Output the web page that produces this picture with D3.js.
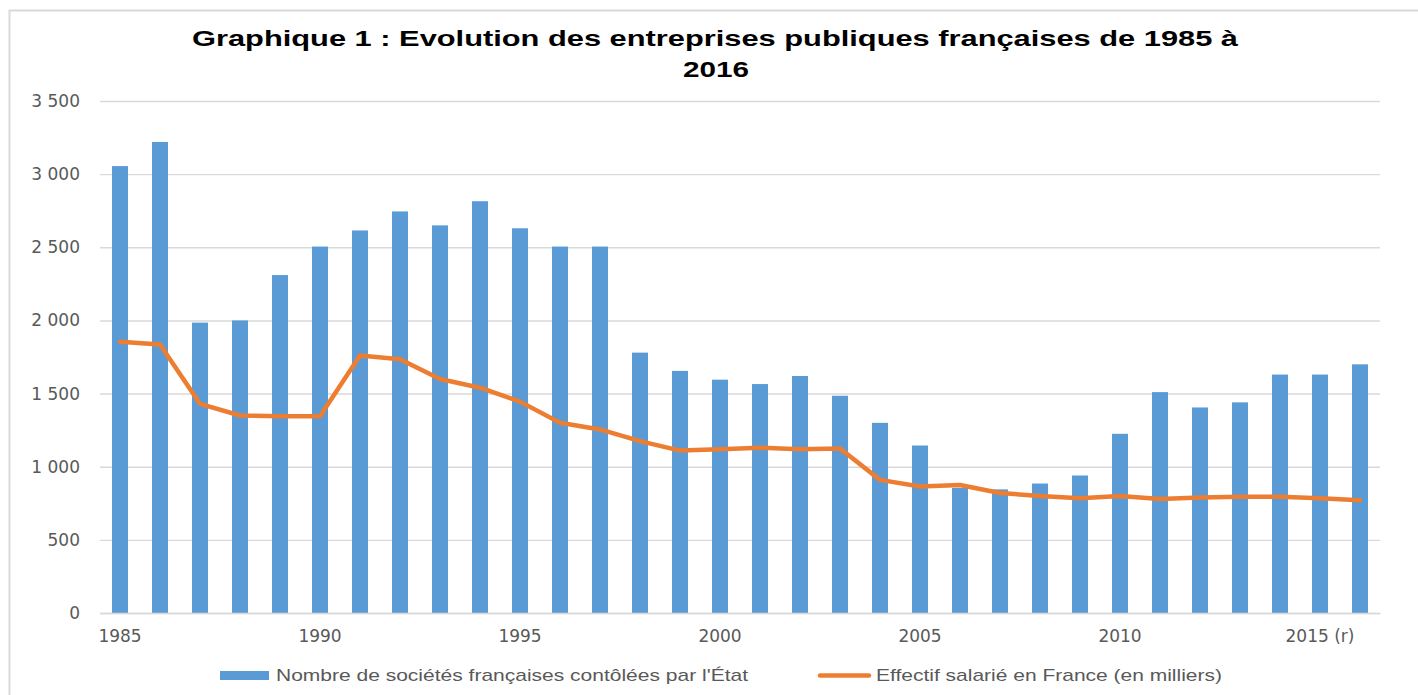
<!DOCTYPE html>
<html>
<head>
<meta charset="utf-8">
<script src="https://cdn.jsdelivr.net/npm/d3@7"></script>
<style>
  html, body { margin: 0; padding: 0; background: #fff; }
  svg { display: block; }
</style>
</head>
<body>
<svg id="chart" width="1418" height="695"></svg>
<script>
// Données
const years = d3.range(1985, 2017);
const societes = [
  3055, 3220, 1985, 2000, 2310, 2505, 2615, 2745, 2650, 2815,
  2630, 2505, 2505, 1780, 1655, 1595, 1565, 1620, 1485, 1300,
  1145, 855, 845, 885, 940, 1225, 1510, 1405, 1440, 1630,
  1630, 1700
];
const effectifs = [
  1855, 1835, 1430, 1350, 1345, 1345, 1760, 1735, 1600, 1540,
  1445, 1300, 1255, 1175, 1110, 1120, 1130, 1120, 1125, 910,
  865, 875, 820, 800, 785, 800, 780, 790, 795, 795,
  785, 770
];
const tickYears = [1985, 1990, 1995, 2000, 2005, 2010, 2015];
const tickLabels = ['1985', '1990', '1995', '2000', '2005', '2010', '2015 (r)'];
const yTicks = [0, 500, 1000, 1500, 2000, 2500, 3000, 3500];

const titleLines = [
  'Graphique 1 : Evolution des entreprises publiques françaises de 1985 à',
  '2016'
];
const legendLabels = [
  "Nombre de sociétés françaises contôlées par l'État",
  'Effectif salarié en France (en milliers)'
];

const svg = d3.select('#chart');

// cadre gris
svg.append('rect')
  .attr('x', 9.5).attr('y', 10.5)
  .attr('width', 1500).attr('height', 800)
  .attr('fill', 'none')
  .attr('stroke', '#d9d9d9')
  .attr('stroke-width', 2);

// titre (texte un peu étiré à l'horizontale comme l'original)
svg.append('text')
  .attr('x', 715).attr('y', 46)
  .attr('text-anchor', 'middle')
  .attr('font-family', 'Liberation Sans, Arial, sans-serif')
  .attr('font-weight', 'bold')
  .attr('font-size', 22)
  .attr('fill', '#000')
  .attr('textLength', 1046)
  .attr('lengthAdjust', 'spacingAndGlyphs')
  .text(titleLines[0]);
svg.append('text')
  .attr('x', 716).attr('y', 77)
  .attr('text-anchor', 'middle')
  .attr('font-family', 'Liberation Sans, Arial, sans-serif')
  .attr('font-weight', 'bold')
  .attr('font-size', 22)
  .attr('fill', '#000')
  .attr('textLength', 66)
  .attr('lengthAdjust', 'spacingAndGlyphs')
  .text(titleLines[1]);

// échelles
const x = d3.scaleBand()
  .domain(years)
  .range([100, 1380])
  .paddingInner(0.6)
  .paddingOuter(0.3);

const y = d3.scaleLinear()
  .domain([0, 3500])
  .range([613, 101]);

const fmt = d3.formatLocale({ decimal: ',', thousands: ' ', grouping: [3], currency: ['', ' €'] }).format(',');

// grille horizontale + étiquettes Y
svg.append('g')
  .attr('transform', 'translate(100,0)')
  .call(d3.axisLeft(y).tickValues(yTicks).tickFormat(fmt).tickSize(-1280).tickPadding(20))
  .call(g => {
    g.select('.domain').remove();
    g.selectAll('.tick line')
      .attr('stroke', '#d9d9d9')
      .attr('stroke-width', 1.4);
    g.selectAll('.tick text')
      .attr('fill', '#595959')
      .attr('font-family', 'DejaVu Sans, sans-serif')
      .attr('font-size', 17);
  });

// barres
svg.append('g')
  .selectAll('rect')
  .data(years)
  .enter()
  .append('rect')
  .attr('x', d => x(d))
  .attr('y', (d, i) => y(societes[i]))
  .attr('width', x.bandwidth())
  .attr('height', (d, i) => y(0) - y(societes[i]))
  .attr('fill', '#5b9bd5');

// ligne des effectifs
const line = d3.line()
  .x((d, i) => x(years[i]) + x.bandwidth() / 2)
  .y(d => y(d));

svg.append('path')
  .datum(effectifs)
  .attr('d', line)
  .attr('fill', 'none')
  .attr('stroke', '#ed7d31')
  .attr('stroke-width', 4.5)
  .attr('stroke-linejoin', 'round')
  .attr('stroke-linecap', 'round');

// axe X
svg.append('g')
  .attr('transform', 'translate(0,613)')
  .call(d3.axisBottom(x).tickValues(tickYears).tickFormat((d, i) => tickLabels[i]).tickSize(0).tickPadding(17))
  .call(g => {
    g.select('.domain')
      .attr('stroke', '#d9d9d9')
      .attr('stroke-width', 1.4);
    g.selectAll('.tick text')
      .attr('fill', '#595959')
      .attr('font-family', 'DejaVu Sans, sans-serif')
      .attr('font-size', 17);
  });

// légende
const legend = svg.append('g').attr('class', 'legend');
legend.append('rect')
  .attr('x', 220).attr('y', 671)
  .attr('width', 49).attr('height', 9)
  .attr('fill', '#5b9bd5');
legend.append('text')
  .attr('x', 276).attr('y', 681)
  .attr('font-family', 'Liberation Sans, Arial, sans-serif')
  .attr('font-size', 17)
  .attr('fill', '#595959')
  .attr('textLength', 472)
  .attr('lengthAdjust', 'spacingAndGlyphs')
  .text(legendLabels[0]);
legend.append('line')
  .attr('x1', 820).attr('x2', 869)
  .attr('y1', 675.5).attr('y2', 675.5)
  .attr('stroke', '#ed7d31')
  .attr('stroke-width', 4.5)
  .attr('stroke-linecap', 'round');
legend.append('text')
  .attr('x', 876).attr('y', 681)
  .attr('font-family', 'Liberation Sans, Arial, sans-serif')
  .attr('font-size', 17)
  .attr('fill', '#595959')
  .attr('textLength', 346)
  .attr('lengthAdjust', 'spacingAndGlyphs')
  .text(legendLabels[1]);
</script>
</body>
</html>
